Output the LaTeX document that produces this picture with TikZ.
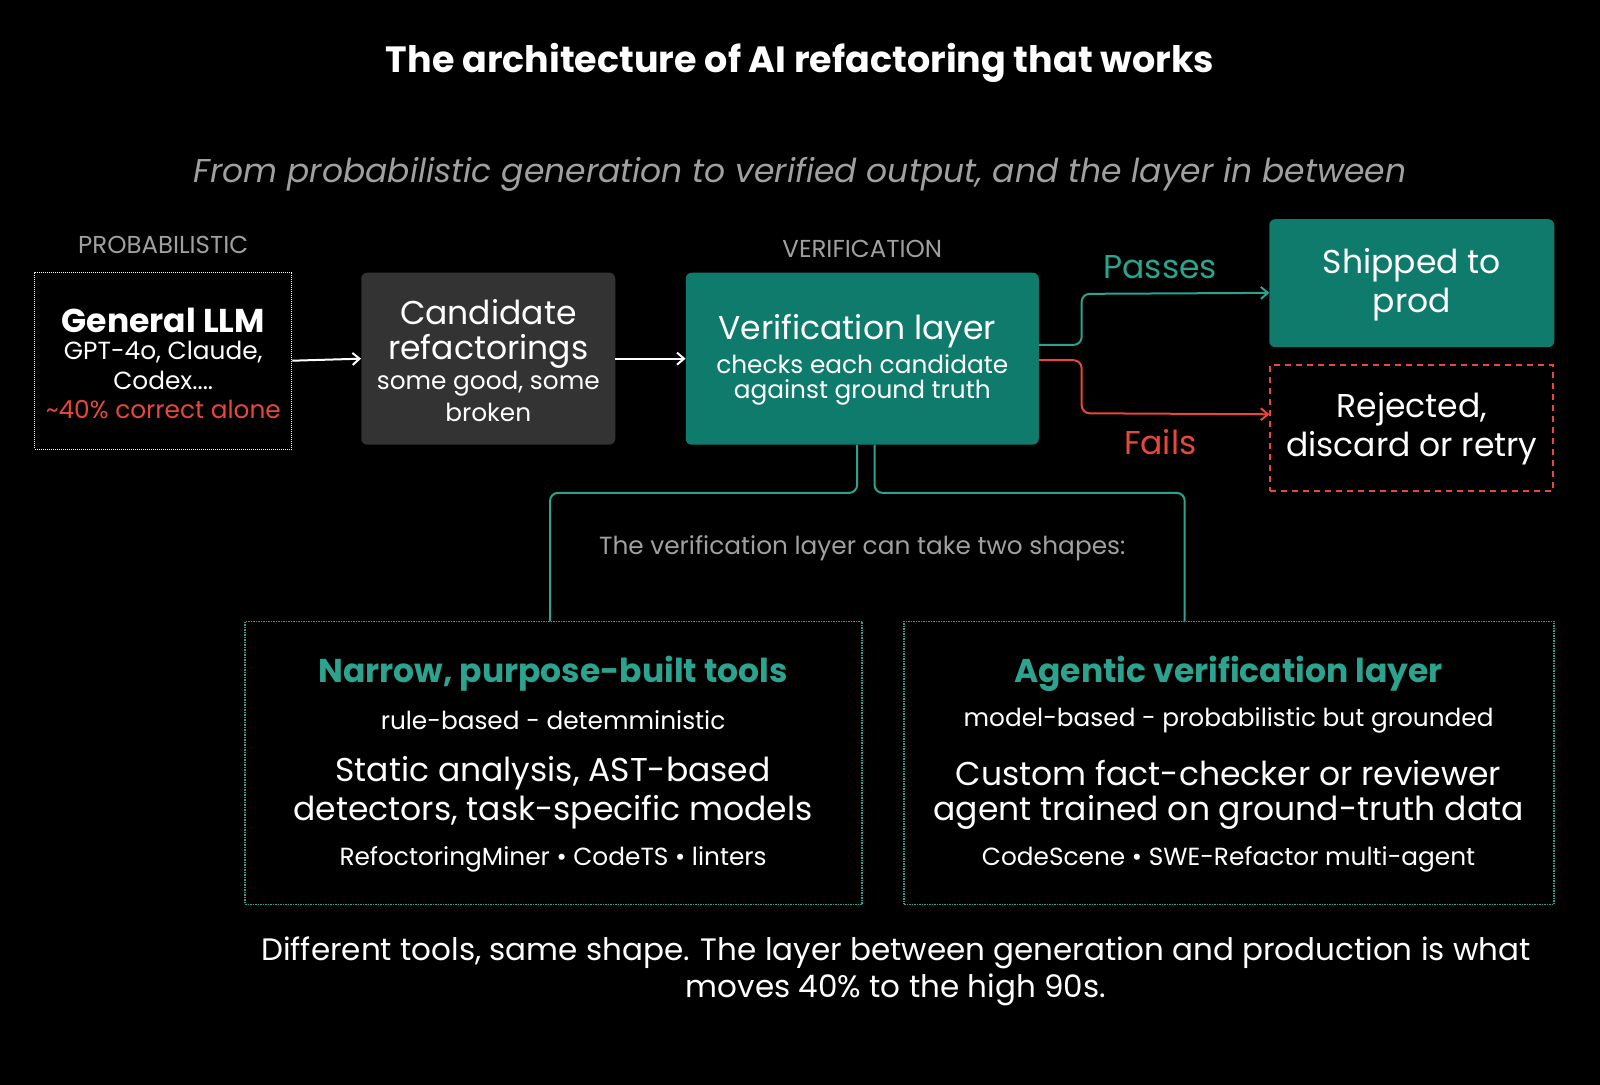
\documentclass[tikz,border=0pt]{standalone}
\usepackage{fontspec}
\setmainfont{Poppins}
\usetikzlibrary{arrows.meta}
\definecolor{teal}{HTML}{0F7B6C}
\definecolor{tealtxt}{HTML}{2BA38F}
\definecolor{redc}{HTML}{E8483B}
\definecolor{graybox}{HTML}{333333}
\definecolor{graytxt}{HTML}{A0A0A0}
\begin{document}
\begin{tikzpicture}[x=1.0204pt,y=-1.0204pt,
  txt/.style={text=white,inner sep=0pt},
  big/.style={txt,font=\fontsize{33}{40}\selectfont},
  sm/.style={txt,font=\fontsize{24.8}{30}\selectfont},
  arr/.style={-{Straight Barb[length=7pt,width=12pt]},line width=2pt},
  conn/.style={draw=tealtxt,line width=2pt,rounded corners=8pt}]
\fill[black] (0,0) rectangle (1568,1063);
\node[txt,font=\fontsize{36.5}{44}\selectfont\bfseries] (title) at (784,62) {The architecture of AI refactoring that works};
\node[txt,text=graytxt,font=\fontsize{33}{40}\selectfont\itshape] (sub) at (784,171) {From probabilistic generation to verified output, and the layer in between};
\node[txt,text=graytxt,font=\fontsize{24.5}{29}\selectfont] (lp) at (160,240) {PROBABILISTIC};
\node[txt,text=graytxt,font=\fontsize{24.5}{29}\selectfont] (lv) at (845,244) {VERIFICATION};
% boxes
\node[draw=white,densely dotted,line width=1pt,minimum width=257pt,minimum height=177pt,inner sep=0pt] (llm) at (160,353.5) {};
\node[big,font=\fontsize{33}{40}\selectfont\bfseries] at (160,314) {General LLM};
\node[sm] at (160,345) {GPT-4o, Claude,};
\node[sm] at (160,373) {Codex....};
\node[sm,text=redc] at (160,401) {\textasciitilde40\% correct alone};
\node[fill=graybox,rounded corners=6pt,minimum width=254pt,minimum height=172pt,inner sep=0pt] (cand) at (478.5,351.5) {};
\node[big] at (478.5,306) {Candidate};
\node[big] at (478.5,344) {refactorings};
\node[sm] at (478.5,376) {some good, some};
\node[sm] at (478.5,404) {broken};
\node[fill=teal,rounded corners=6pt,minimum width=353pt,minimum height=172pt,inner sep=0pt] (ver) at (845,351.5) {};
\node[big] at (840,325) {Verification layer};
\node[sm] at (845,357) {checks each candidate};
\node[sm] at (845,385) {against ground truth};
\node[fill=teal,rounded corners=6pt,minimum width=285pt,minimum height=128pt,inner sep=0pt] (ship) at (1383.5,277.5) {};
\node[big] at (1383.5,260) {Shipped to};
\node[big] at (1383.5,298) {prod};
\node[draw=redc,line width=2pt,dash pattern=on 6pt off 5pt,minimum width=283pt,minimum height=126pt,inner sep=0pt] (rej) at (1383.5,419.5) {};
\node[big] at (1383.5,401) {Rejected,};
\node[big] at (1383.5,439) {discard or retry};
\node[big,text=tealtxt] (pl) at (1137,262) {Passes};
\node[big,text=redc] (fl) at (1137,433) {Fails};
% arrows
\draw[arr,white] (llm.east) -- (cand.west);
\draw[arr,white] (cand.east) -- (ver.west);
\coordinate (vp) at (1018,338); \coordinate (vf) at (1018,353);
\draw[arr,tealtxt,rounded corners=8pt] (vp) -- (1060,338) -- (1060,288) -- (1244,287);
\draw[arr,redc,rounded corners=8pt] (vf) -- (1060,353) -- (1060,405) -- (1244,406);
% lower boxes
\node[draw=tealtxt,densely dotted,line width=1.5pt,minimum width=617pt,minimum height=283pt,inner sep=0pt] (nar) at (542.5,747.5) {};
\node[draw=tealtxt,densely dotted,line width=1.5pt,minimum width=650pt,minimum height=283pt,inner sep=0pt] (agt) at (1204.5,747.5) {};
\coordinate (b1) at (840,436); \coordinate (b2) at (857,436);
\draw[conn] (b1) -- (840,483) -- (539,483) -- (539,609);
\draw[conn] (b2) -- (857,483) -- (1161,483) -- (1161,609);
\node[sm,text=graytxt] (shp) at (845,537) {The verification layer can take two shapes:};
\node[big,text=tealtxt,font=\fontsize{33}{40}\selectfont\bfseries] at (542,660) {Narrow, purpose-built tools};
\node[sm] at (542,706) {rule-based - detemministic};
\node[big] at (542,758) {Static analysis, AST-based};
\node[big] at (542,796) {detectors, task-specific models};
\node[sm] at (542,842) {RefoctoringMiner • CodeTS • linters};
\node[big,text=tealtxt,font=\fontsize{33}{40}\selectfont\bfseries] at (1204,660) {Agentic verification layer};
\node[sm] at (1204,706) {model-based - probabilistic but grounded};
\node[big] at (1204,758) {Custom fact-checker or reviewer};
\node[big] at (1204,796) {agent trained on ground-truth data};
\node[sm] at (1204,842) {CodeScene • SWE-Refactor multi-agent};
\node[txt,font=\fontsize{31}{38}\selectfont] (foot) at (878,934) {Different tools, same shape. The layer between generation and production is what};
\node[txt,font=\fontsize{31}{38}\selectfont] (foot2) at (878,970) {moves 40\% to the high 90s.};
\pgfresetboundingbox
\useasboundingbox (0,0) rectangle (1568,1063);
\end{tikzpicture}
\end{document}
